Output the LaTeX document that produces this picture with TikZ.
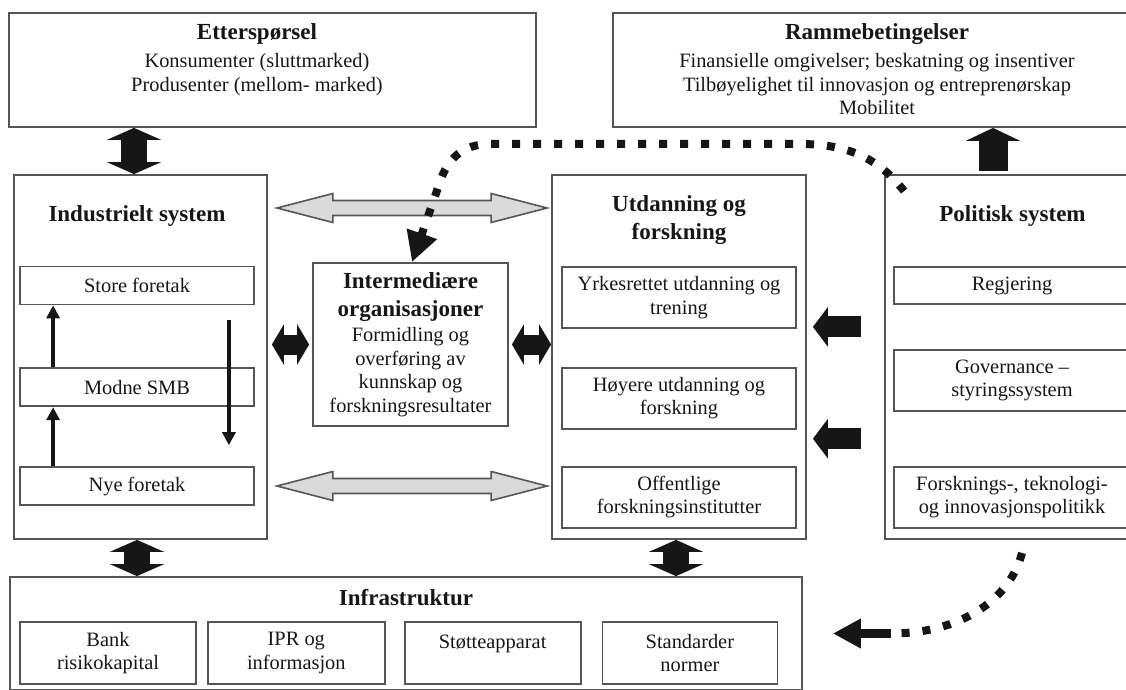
\documentclass[tikz,border=0pt]{standalone}
\usepackage{fontspec}
\setmainfont{Liberation Serif}
\usetikzlibrary{calc, positioning, arrows.meta}
\definecolor{LineGray}{RGB}{85, 85, 85}
\definecolor{ArrowGray}{RGB}{218, 218, 218}
\definecolor{InkBlack}{RGB}{22, 22, 22}
\newcommand{\bodyfont}{\fontsize{10.2pt}{11.75pt}\selectfont}
\newcommand{\hdr}[1]{{\fontsize{11.5pt}{14pt}\selectfont\bfseries #1}}
% flecha doble gris con borde
\newcommand{\twowayarrow}[2]{%
  \draw[grayarrow] (#1) -- ++(28pt,7.25pt) -- ++(0,-3.5pt)
    -- ($(#2)+(-28pt,3.75pt)$) -- ++(0,3.5pt) -- (#2)
    -- ++(-28pt,-7.25pt) -- ++(0,3.5pt)
    -- ($(#1)+(28pt,-3.75pt)$) -- ++(0,-3.5pt) -- cycle;}

\begin{document}
\begin{tikzpicture}[x=0.5pt, y=-0.5pt,
    outerbox/.style={draw=LineGray, line width=0.9pt, inner sep=0pt},
    innerbox/.style={outerbox, align=center, font=\bodyfont, text=InkBlack},
    txt/.style={align=center, inner sep=0pt, font=\bodyfont, text=InkBlack},
    grayarrow/.style={draw=LineGray, fill=ArrowGray, line width=0.8pt, line join=miter},
    bigdbl/.style={InkBlack, line width=13pt, {Triangle[length=6pt,width=27pt]}-{Triangle[length=6pt,width=27pt]}},
    bigup/.style={InkBlack, line width=14.5pt, -{Triangle[length=6.5pt,width=27pt]}},
    smalldbl/.style={InkBlack, line width=10pt, {Triangle[length=6pt,width=20pt]}-{Triangle[length=6pt,width=20pt]}},
    leftarrow/.style={InkBlack, line width=10.5pt, -{Triangle[length=7.5pt,width=19.5pt]}},
    thinarrow/.style={InkBlack, line width=1.8pt, -{Triangle[length=6.5pt,width=6.5pt]}},
    dotline/.style={InkBlack, line width=4pt, dash pattern=on 4pt off 6.5pt}]

    \useasboundingbox (0,0) rectangle (1126,690);
    \clip (0,0) rectangle (1126,690);

    % Cajas grandes
    \node[outerbox, minimum width=263.5pt, minimum height=57pt] (ettersp) at (272.5,70) {};
    \node[outerbox, minimum width=263.5pt, minimum height=57pt] (ramme) at (876.5,70) {};
    \node[outerbox, minimum width=126.5pt, minimum height=182pt] (indsys) at (140.5,357) {};
    \node[outerbox, minimum width=127pt, minimum height=182pt] (utd) at (679,357) {};
    \node[outerbox, minimum width=127.5pt, minimum height=182pt] (pol) at (1012.5,357) {};
    \node[outerbox, minimum width=396pt, minimum height=56.5pt] (infra) at (406,633.5) {};
    \node[outerbox, minimum width=97.5pt, minimum height=81.5pt, align=center,
          font=\bodyfont, text=InkBlack] (inter) at (410.5,344.5)
        {\hdr{Intermediære}\\[2.2pt]\hdr{organisasjoner}\\[1pt]Formidling og\\overføring av\\kunnskap og\\forskningsresultater};

    % Textos de las cajas
    \node[txt, anchor=north] (etttxt) at ([xshift=-7.75pt, yshift=-5.5pt]ettersp.north)
        {\hdr{Etterspørsel}\\[2.5pt]Konsumenter (sluttmarked)\\Produsenter (mellom- marked)};
    \node[txt, anchor=north] (rammetxt) at ([xshift=0.25pt, yshift=-5.5pt]ramme.north)
        {\hdr{Rammebetingelser}\\[2.5pt]Finansielle omgivelser; beskatning og insentiver\\Tilbøyelighet til innovasjon og entreprenørskap\\Mobilitet};
    \node[txt] (indtitle) at ([xshift=-1.75pt, yshift=-21pt]indsys.north) {\hdr{Industrielt system}};
    \node[txt] (utdtitle) at ([yshift=-23pt]utd.north) {\hdr{Utdanning og}\\[2.2pt]\hdr{forskning}};
    \node[txt] (poltitle) at ([yshift=-21pt]pol.north) {\hdr{Politisk system}};
    \node[txt] (infratitle) at ([yshift=-10.5pt]infra.north) {\hdr{Infrastruktur}};

    % Subcajas
    \node[innerbox, minimum width=117pt, minimum height=19pt] (store) at (137,285.5) {Store foretak};
    \node[innerbox, minimum width=117pt, minimum height=19pt, below=31pt of store] (modne) {Modne SMB};
    \node[innerbox, minimum width=117pt, minimum height=19pt, below=29.5pt of modne] (nye) {Nye foretak};

    \node[innerbox, minimum width=117pt, minimum height=30.5pt] (yrk) at (679,297.5) {Yrkesrettet utdanning og\\trening};
    \node[innerbox, minimum width=117pt, minimum height=30.5pt, below=19pt of yrk] (hoy) {Høyere utdanning og\\forskning};
    \node[innerbox, minimum width=117pt, minimum height=30.5pt, below=18pt of hoy] (off) {Offentlige\\forskningsinstitutter};

    \node[innerbox, minimum width=118pt, minimum height=18.5pt] (reg) at (1012,285.5) {Regjering};
    \node[innerbox, minimum width=118pt, minimum height=30.5pt, below=22pt of reg] (gov) {Governance –\\styringssystem};
    \node[innerbox, minimum width=118pt, minimum height=30.5pt, below=27pt of gov] (forsk) {Forsknings-, teknologi-\\og innovasjonspolitikk};

    \node[innerbox, minimum width=88pt, minimum height=31pt] (bank) at (108,653) {Bank\\risikokapital};
    \node[innerbox, minimum width=88.5pt, minimum height=31pt, right=5pt of bank] (ipr) {IPR og\\informasjon};
    \node[innerbox, minimum width=88pt, minimum height=31pt, text height=7pt, text depth=12pt, right=9pt of ipr] (stotte) {Støtteapparat};
    \node[innerbox, minimum width=87.5pt, minimum height=31pt, right=10pt of stotte] (std) {Standarder\\normer};

    % Flechas internas del sistema industrial
    \draw[thinarrow] ([xshift=17pt]modne.north west) -- ([xshift=17pt]store.south west);
    \draw[thinarrow] ([xshift=17pt]nye.north west) -- ([xshift=17pt]modne.south west);
    \draw[thinarrow] ([xshift=-13pt, yshift=-7.5pt]store.south east) -- ([xshift=-13pt, yshift=10.5pt]nye.north east);

    % Flechas grises
    \coordinate (gt1) at ($(indsys.east |- 0,208)+(4.5pt,0)$);
    \coordinate (gt2) at ($(utd.west |- 0,208)+(-2pt,0)$);
    \coordinate (gb1) at ($(indsys.east |- 0,486)+(4.5pt,0)$);
    \coordinate (gb2) at ($(utd.west |- 0,486)+(-2pt,0)$);
    \twowayarrow{gt1}{gt2}
    \twowayarrow{gb1}{gb2}

    % Flechas negras
    \coordinate (va1) at ([xshift=-3.25pt]indsys.north);
    \coordinate (va2) at ([xshift=-1.75pt]indsys.south);
    \coordinate (va3) at ([xshift=-1.5pt]utd.south);
    \coordinate (va4) at ([xshift=-9.75pt]pol.north);
    \draw[bigdbl] (va1 |- ettersp.south) -- (va1);
    \draw[bigdbl] (va2) -- (va2 |- infra.north);
    \draw[bigdbl] (va3) -- (va3 |- infra.north);
    \draw[bigup, shorten <=1.5pt] (va4) -- (va4 |- ramme.south);
    \draw[smalldbl, shorten <=2pt, shorten >=1.5pt] (indsys.east |- inter.west) -- (inter.west);
    \draw[smalldbl, shorten <=1.5pt] (inter.east) -- (inter.east -| utd.west);

    \coordinate (ml1) at ($(reg.south)!0.5!(gov.north)$);
    \coordinate (ml2) at ($(gov.south)!0.5!(forsk.north)$);
    \draw[leftarrow, shorten <=11.5pt, shorten >=3pt] (ml1 -| pol.west) -- (ml1 -| utd.east);
    \draw[leftarrow, shorten <=11.5pt, shorten >=3pt] (ml2 -| pol.west) -- (ml2 -| utd.east);

    % Lineas punteadas
    \coordinate (dtop) at ([xshift=10pt, yshift=-8.5pt]pol.north west);
    \draw[dotline, -{Triangle[length=15pt,width=15pt]}] (dtop)
        .. controls (880,160) and (850,144) .. (800,144) -- (490,144)
        .. controls (462,144) and (447,160) .. (440,182) -- ([xshift=0.75pt]inter.north);

    \coordinate (dbot) at ([xshift=4.75pt, yshift=-6.5pt]pol.south);
    \coordinate (dmid) at ([xshift=44pt]infra.east);
    \draw[dotline] (dbot) .. controls (1010,600) and (960,633.5) .. (dmid);
    \draw[InkBlack, line width=4.5pt, -{Triangle[length=14pt,width=14pt]}] (dmid) -- ([xshift=15pt]infra.east);
\end{tikzpicture}
\end{document}
